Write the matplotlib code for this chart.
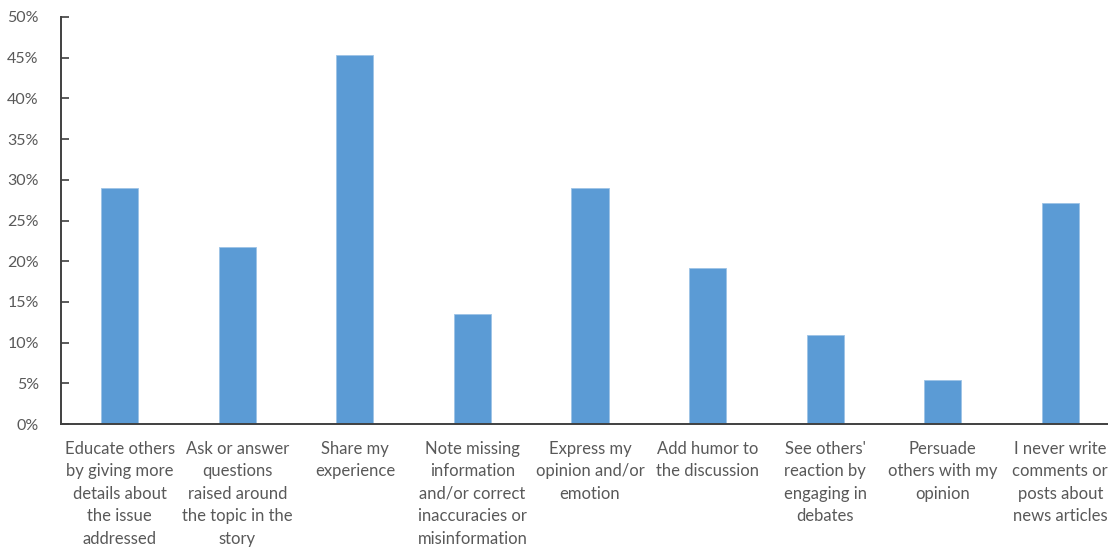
import matplotlib
matplotlib.use("Agg")
import matplotlib.pyplot as plt
from matplotlib.ticker import FuncFormatter, MultipleLocator

categories = [
    "Educate others\nby giving more\ndetails about\nthe issue\naddressed",
    "Ask or answer\nquestions\nraised around\nthe topic in the\nstory",
    "Share my\nexperience",
    "Note missing\ninformation\nand/or correct\ninaccuracies or\nmisinformation",
    "Express my\nopinion and/or\nemotion",
    "Add humor to\nthe discussion",
    "See others'\nreaction by\nengaging in\ndebates",
    "Persuade\nothers with my\nopinion",
    "I never write\ncomments or\nposts about\nnews articles",
]
shares = [29.0, 21.7, 45.3, 13.5, 29.0, 19.2, 10.9, 5.4, 27.2]

plt.rcParams["font.family"] = ["Lato", "DejaVu Sans"]

fig = plt.figure(figsize=(11.08, 5.55), dpi=100)
ax = fig.add_axes([61 / 1108, 1 - 424 / 555, 1058 / 1108, 407 / 555])

x = range(len(categories))
ax.bar(x, shares, width=0.315, color="#5B9BD5", edgecolor="#9DC3E6", linewidth=0.6, zorder=2)

ax.set_xlim(-0.5, len(categories) - 0.5)
ax.set_ylim(0, 50)
ax.yaxis.set_major_locator(MultipleLocator(5))
ax.yaxis.set_major_formatter(FuncFormatter(lambda v, _: f"{v:.0f}%"))

ax.set_xticks(list(x))
ax.set_xticklabels(categories, linespacing=1.5, color="#595959", fontsize=12, va="top")
ax.tick_params(axis="x", length=0, pad=12)
ax.tick_params(axis="y", direction="in", length=6, width=1.2, color="#404040",
               labelcolor="#595959", labelsize=11.5, pad=16)

for side in ("top", "right"):
    ax.spines[side].set_visible(False)
for side in ("left", "bottom"):
    ax.spines[side].set_color("#404040")
    ax.spines[side].set_linewidth(1.4)

fig.savefig("out.png", dpi=100)
